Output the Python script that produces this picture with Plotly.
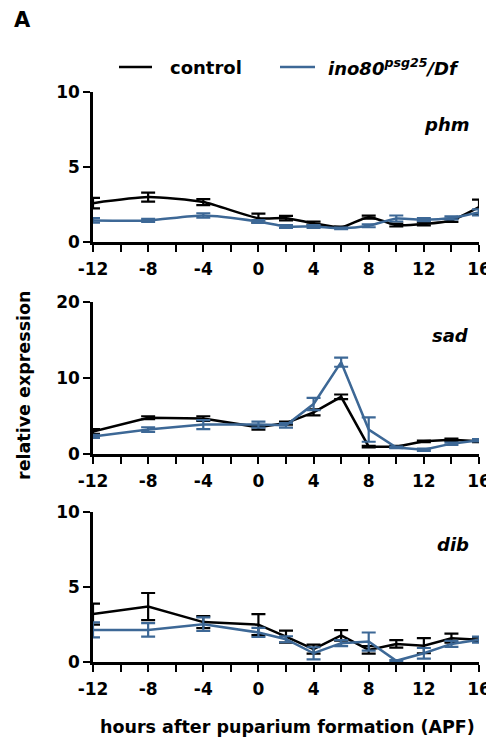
import plotly.graph_objects as go

hours = [-12, -8, -4, 0, 2, 4, 6, 8, 10, 12, 14, 16]
x_tick_vals = [-12, -8, -4, 0, 4, 8, 12, 16]

genes = ["phm", "sad", "dib"]
y_max = [10, 20, 10]
y_dtick = [5, 10, 5]

phm_control = [2.6, 3.0, 2.67, 1.6, 1.6, 1.27, 1.0, 1.67, 1.15, 1.22, 1.45, 2.33]
phm_control_err = [0.35, 0.3, 0.2, 0.3, 0.15, 0.1, 0.05, 0.1, 0.1, 0.1, 0.1, 0.5]
phm_mutant = [1.45, 1.45, 1.78, 1.38, 1.05, 1.05, 0.93, 1.1, 1.58, 1.5, 1.62, 1.98]
phm_mutant_err = [0.15, 0.1, 0.15, 0.1, 0.1, 0.1, 0.05, 0.1, 0.2, 0.1, 0.1, 0.2]

sad_control = [3.0, 4.8, 4.7, 3.55, 4.1, 5.5, 7.55, 1.0, 1.0, 1.7, 1.9, 1.7]
sad_control_err = [0.3, 0.2, 0.3, 0.3, 0.2, 0.4, 0.3, 0.1, 0.1, 0.1, 0.15, 0.1]
sad_mutant = [2.35, 3.25, 3.9, 3.9, 3.8, 6.6, 12.1, 3.25, 0.9, 0.6, 1.4, 1.85]
sad_mutant_err = [0.2, 0.3, 0.6, 0.4, 0.3, 0.8, 0.6, 1.6, 0.1, 0.15, 0.15, 0.15]

dib_control = [3.2, 3.7, 2.67, 2.5, 1.7, 0.87, 1.78, 0.82, 1.22, 1.1, 1.6, 1.5]
dib_control_err = [0.7, 0.9, 0.4, 0.7, 0.4, 0.3, 0.35, 0.25, 0.25, 0.5, 0.3, 0.15]
dib_mutant = [2.15, 2.15, 2.53, 1.98, 1.53, 0.6, 1.27, 1.38, 0.1, 0.6, 1.22, 1.5]
dib_mutant_err = [0.5, 0.45, 0.45, 0.3, 0.2, 0.4, 0.2, 0.6, 0.05, 0.35, 0.2, 0.2]

control_vals = [phm_control, sad_control, dib_control]
control_errs = [phm_control_err, sad_control_err, dib_control_err]
mutant_vals = [phm_mutant, sad_mutant, dib_mutant]
mutant_errs = [phm_mutant_err, sad_mutant_err, dib_mutant_err]

series_names = ["control", "<i>ino80<sup>psg25</sup>/Df</i>"]

BLACK = "#000000"
BLUE = "#3d6896"
PAGE_MARGIN = 8  # default body margin of the html page
W, H = 494 - PAGE_MARGIN, 742 - PAGE_MARGIN
FONT = "DejaVu Sans, Liberation Sans, sans-serif"


def px(x):
    return (x - PAGE_MARGIN) / W


def py(y):
    return 1 - (y - PAGE_MARGIN) / H


# panel pixel extents (top, bottom) of plot areas, in window pixels
panel_px = [(91.7, 242.3), (302.0, 454.3), (511.7, 662.3)]
x_dom = [px(93), px(479)]

fig = go.Figure()
for i, g in enumerate(genes):
    xa = "x" if i == 0 else f"x{i+1}"
    ya = "y" if i == 0 else f"y{i+1}"
    shape = "spline" if i == 0 else "linear"
    for vals, errs, color, name in [
        (control_vals[i], control_errs[i], BLACK, series_names[0]),
        (mutant_vals[i], mutant_errs[i], BLUE, series_names[1]),
    ]:
        fig.add_trace(go.Scatter(
            x=hours, y=vals, mode="lines", xaxis=xa, yaxis=ya,
            line=dict(color=color, width=2.5, shape=shape, smoothing=0.6),
            error_y=dict(type="data", array=errs, visible=True, color=color,
                         thickness=2.2, width=7),
            name=name, showlegend=False, cliponaxis=False,
        ))
    top, bot = panel_px[i]
    dom = [py(bot), py(top)]
    axx = dict(domain=x_dom, range=[-12, 16], anchor=ya, automargin=False,
               tickvals=x_tick_vals, ticktext=[str(v) for v in x_tick_vals],
               showline=True, linecolor="black", linewidth=2.5,
               ticks="outside", ticklen=7, tickwidth=2, tickcolor="black",
               minor=dict(dtick=2, tick0=0, ticks="outside", ticklen=7,
                          tickwidth=2, tickcolor="black"),
               ticklabelstandoff=3,
               showgrid=False, zeroline=False,
               tickfont=dict(family=FONT, size=17, color="black", weight="bold"))
    axy = dict(domain=dom, range=[0, y_max[i]], anchor=xa, automargin=False,
               dtick=y_dtick[i], tick0=0,
               showline=True, linecolor="black", linewidth=2.5,
               ticks="outside", ticklen=7, tickwidth=2, tickcolor="black",
               showgrid=False, zeroline=False,
               tickfont=dict(family=FONT, size=17, color="black", weight="bold"))
    key = "" if i == 0 else str(i + 1)
    fig.layout["xaxis" + key] = axx
    fig.layout["yaxis" + key] = axy
    fig.add_annotation(text=f"<b><i>{g}</i></b>", xref="paper", yref="paper",
                       x=px(471), y=py(top + 33), xanchor="right", yanchor="middle",
                       showarrow=False, font=dict(family=FONT, size=18, color="black"))

# legend (drawn manually)
legend_items = [(BLACK, series_names[0], 119, 152, 168), (BLUE, series_names[1], 280, 315, 326)]
for color, label, x0, x1, xt in legend_items:
    fig.add_shape(type="line", xref="paper", yref="paper", x0=px(x0), x1=px(x1),
                  y0=py(67), y1=py(67), line=dict(color=color, width=2.5))
    fig.add_annotation(text=f"<b>{label}</b>", xref="paper", yref="paper",
                       x=px(xt), y=py(67), xanchor="left", yanchor="middle",
                       showarrow=False, font=dict(family=FONT, size=18, color="black"))

fig.add_annotation(text="<b>A</b>", xref="paper", yref="paper", x=px(12), y=py(20),
                   xanchor="left", yanchor="middle", showarrow=False,
                   font=dict(family=FONT, size=21, color="black"))
fig.add_annotation(text="<b>relative expression</b>", xref="paper", yref="paper",
                   x=px(24), y=py(385), textangle=-90, xanchor="center", yanchor="middle",
                   showarrow=False, font=dict(family=FONT, size=17.5, color="black"))
fig.add_annotation(text="<b>hours after puparium formation (APF)</b>", xref="paper", yref="paper",
                   x=px(287), y=py(727), xanchor="center", yanchor="middle",
                   showarrow=False, font=dict(family=FONT, size=17.5, color="black"))

fig.update_layout(
    template="none",
    width=W, height=H, margin=dict(l=0, r=0, t=0, b=0, autoexpand=False),
    paper_bgcolor="white", plot_bgcolor="white",
    font=dict(family=FONT, color="black"),
    showlegend=False,
)
fig.write_html("out.html")
